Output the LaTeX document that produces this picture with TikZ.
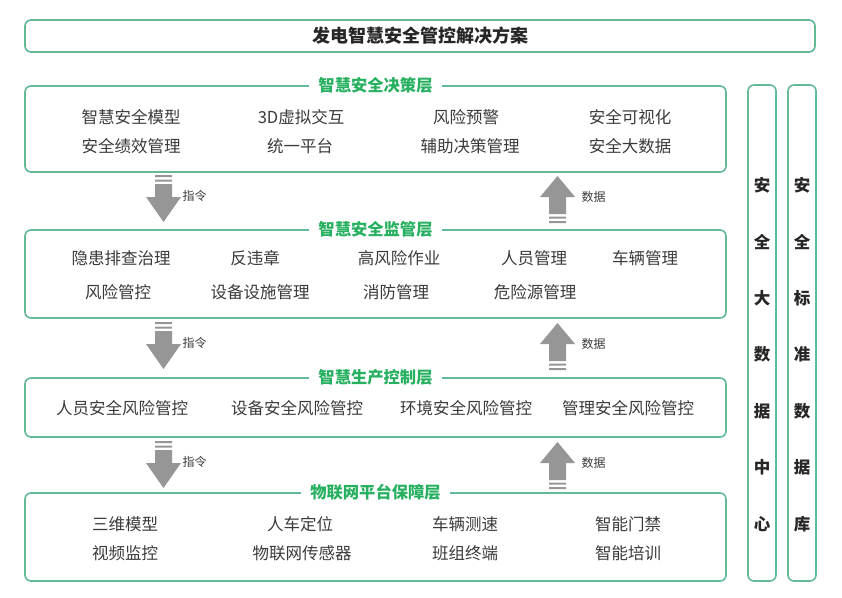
\documentclass[tikz,border=0pt]{standalone}
\usepackage{fontspec}
\setmainfont{Noto Sans CJK SC}
\usepackage{tikz}
\definecolor{SafeLine}{RGB}{98,186,150}
\definecolor{SafeGreen}{RGB}{38,176,96}
\definecolor{SafeText}{RGB}{58,58,58}
\definecolor{SafeArrow}{RGB}{150,150,150}
\begin{document}
\begin{tikzpicture}[x=1pt,y=-1pt,
   box/.style={draw=SafeLine,line width=1.6pt,rounded corners=6pt,rectangle,inner sep=0pt},
   layer/.style={box,minimum width=701pt,minimum height=#1pt},
   ttl/.style={fill=white,inner xsep=9pt,inner ysep=1pt,text=SafeGreen,font=\fontsize{16.3}{16}\selectfont\bfseries},
   item/.style={text=SafeText,font=\fontsize{16.5}{17}\selectfont},
   lbl/.style={text=SafeText,font=\fontsize{12}{12}\selectfont},
   vch/.style={text=black!85,font=\fontsize{16.5}{17}\selectfont\bfseries},
   dn/.pic={\fill[SafeArrow] (-8.5,0) rectangle (8.5,2) (-8.5,4.5) rectangle (8.5,6.5)
      (-8.5,9) -- (8.5,9) -- (8.5,22) -- (17.5,22) -- (0,47) -- (-17.5,22) -- (-8.5,22) -- cycle;},
   up/.pic={\fill[SafeArrow] (-8.5,47) rectangle (8.5,45) (-8.5,42.5) rectangle (8.5,40.5)
      (-8.5,38) -- (8.5,38) -- (8.5,21) -- (17.5,21) -- (0,0) -- (-17.5,21) -- (-8.5,21) -- cycle;}]
\useasboundingbox (0,0) rectangle (842,597);
% title
\node[box,minimum width=790pt,minimum height=32pt](top) at (420,36) {};
\node[text=black!85,font=\fontsize{18}{18}\selectfont\bfseries](topT) at (top) {发电智慧安全管控解决方案};
% layers
\node[layer=86](dec) at (375.5,129) {};
\node[layer=88](mon) at (375.5,274) {};
\node[layer=59](pro) at (375.5,407.5) {};
\node[layer=88](iot) at (375.5,537) {};
\node[ttl](decT) at (dec.north) {智慧安全决策层};
\node[ttl](monT) at (mon.north) {智慧安全监管层};
\node[ttl](proT) at (pro.north) {智慧生产控制层};
\node[ttl](iotT) at (iot.north) {物联网平台保障层};
\foreach \x/\y/\t [count=\i] in %
{131/117/智慧安全模型,301/117/3D虚拟交互,466/117/风险预警,630/117/安全可视化,
 131/146/安全绩效管理,300/146/统一平台,470/146/辅助决策管理,630/146/安全大数据} {
   \node[item](d\i) at (\x,\y) {\t};
}
\foreach \x/\y/\t [count=\i] in %
{121/258/隐患排查治理,255/258/反违章,399/258/高风险作业,534/258/人员管理,645/258/车辆管理,
 118/292/风险管控,260/292/设备设施管理,396/292/消防管理,535/292/危险源管理} {
   \node[item](m\i) at (\x,\y) {\t};
}
\foreach \x/\t [count=\i] in %
{122/人员安全风险管控,297/设备安全风险管控,466/环境安全风险管控,628/管理安全风险管控} {
   \node[item](p\i) at (\x,408) {\t};
}
\foreach \x/\y/\t [count=\i] in %
{125/524/三维模型,300/524/人车定位,465/524/车辆测速,628/524/智能门禁,
 125/553/视频监控,302/553/物联网传感器,465/553/班组终端,628/553/智能培训} {
   \node[item](i\i) at (\x,\y) {\t};
}
% arrows
\foreach \y [count=\i] in {175,322,441} {
   \coordinate (c\i) at (163.5,\y);
   \pic at (c\i) {dn};
   \node[lbl](cl\i) at ([shift={(31,21)}]c\i) {指令};
   \coordinate (u\i) at (557.5,\y+1);
   \pic at (u\i) {up};
   \node[lbl](ul\i) at ([shift={(36,21)}]u\i) {数据};
}
% side columns
\node[box,minimum width=28pt,minimum height=496pt](bd) at (762,333) {};
\node[box,minimum width=28pt,minimum height=496pt](sd) at (802,333) {};
\foreach \c [count=\i from 0] in {安,全,大,数,据,中,心} {
   \node[vch](bd\i) at (762,185+56.5*\i) {\c};
}
\foreach \c [count=\i from 0] in {安,全,标,准,数,据,库} {
   \node[vch](sd\i) at (802,185+56.5*\i) {\c};
}
\end{tikzpicture}
\end{document}
